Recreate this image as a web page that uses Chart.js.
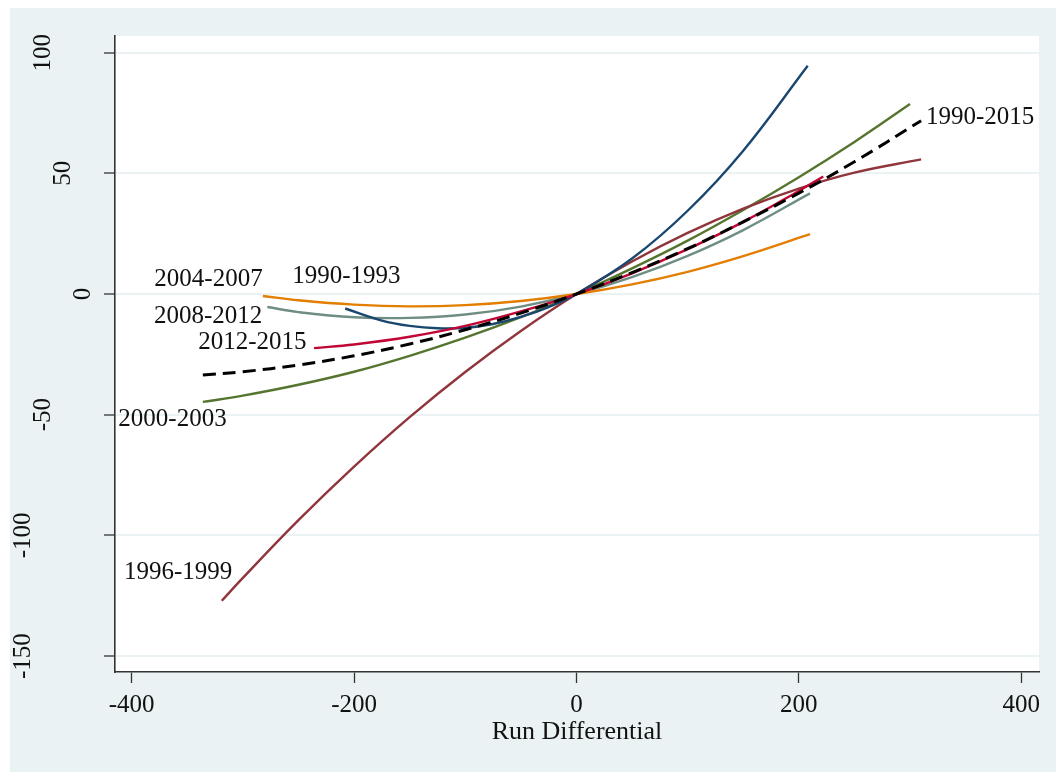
<!DOCTYPE html>
<html>
<head>
<meta charset="utf-8">
<script src="https://cdn.jsdelivr.net/npm/chart.js@4/dist/chart.umd.min.js"></script>
<style>
  html, body { margin: 0; padding: 0; background: #fff; }
  #wrap { position: absolute; left: 10px; top: 8px; width: 1046px; height: 764px; background: #eaf2f3; }
</style>
</head>
<body>
<div id="wrap"><canvas id="myChart" width="1046" height="764"></canvas></div>
<script>
// Fitted win curves vs run differential, by period

const xTicks = [-400, -200, 0, 200, 400];
const yTicks = [-150, -100, -50, 0, 50, 100];

const x1990_2015 = [-336, -300, -250, -200, -150, -100, -50, 0, 50, 100, 150, 200, 250, 310];
const y1990_2015 = [-33.6, -32.2, -29.4, -25.6, -20.7, -14.8, -7.9, 0, 8.9, 18.8, 29.9, 41.8, 54.8, 71.8];

const x1990_1993 = [-208, -175, -150, -125, -100, -75, -50, -25, 0, 50, 100, 150, 208];
const y1990_1993 = [-6.0, -11.0, -13.2, -14.2, -14.0, -12.4, -9.5, -5.4, 0, 14.7, 34.5, 59.4, 94.6];

const x1996_1999 = [-319, -300, -250, -200, -150, -100, -50, 0, 50, 100, 150, 200, 250, 310];
const y1996_1999 = [-127.1, -117.6, -93.7, -71.5, -51.0, -32.3, -15.3, 0, 13.5, 25.3, 35.4, 43.7, 50.3, 55.8];

const x2000_2003 = [-336, -300, -250, -200, -150, -100, -50, 0, 50, 100, 150, 200, 250, 300];
const y2000_2003 = [-44.7, -42.1, -37.6, -32.2, -25.6, -18.1, -9.6, 0, 10.6, 22.1, 34.8, 48.4, 63.0, 78.7];

const x2004_2007 = [-282, -250, -200, -150, -100, -50, 0, 50, 100, 150, 210];
const y2004_2007 = [-0.8, -2.6, -4.4, -5.1, -4.6, -2.9, 0, 4.0, 9.2, 15.7, 24.8];

const x2008_2012 = [-278, -250, -200, -150, -100, -50, 0, 50, 100, 150, 210];
const y2008_2012 = [-5.4, -7.5, -9.6, -9.9, -8.5, -5.2, 0, 7.0, 15.8, 26.5, 41.7];

const x2012_2015 = [-236, -200, -150, -100, -50, 0, 50, 100, 150, 200, 222];
const y2012_2015 = [-22.4, -20.9, -17.7, -13.2, -7.2, 0, 8.6, 18.6, 29.9, 42.7, 48.7];

// curve labels, in data units
const labelText = ['1990-1993', '1996-1999', '2000-2003', '2004-2007', '2008-2012', '2012-2015', '1990-2015'];
const labelX = [-255.6, -309.5, -314.6, -282.2, -282.5, -242.7, 314.3];
const labelY = [7.2, -115.2, -52.0, 6.2, -9.4, -19.9, 73.0];
const labelAlign = ['left', 'right', 'right', 'right', 'right', 'right', 'left'];

const FONT = '25px "Liberation Serif", "DejaVu Serif", serif';

function pts(xs, ys) {
    return xs.map((x, i) => ({ x: x, y: ys[i] }));
}

function series(xs, ys, color, extra) {
    return Object.assign({
        data: pts(xs, ys),
        borderColor: color,
        backgroundColor: 'transparent',
        borderWidth: 2.4,
        pointRadius: 0,
        tension: 0.4,
        fill: false
    }, extra || {});
}

const stataLook = {
    id: 'stataLook',
    beforeDraw(chart) {
        const { ctx, chartArea: a } = chart;
        ctx.save();
        ctx.fillStyle = '#ffffff';
        ctx.fillRect(a.left, a.top, a.right - a.left, a.bottom - a.top);
        ctx.restore();
    },
    afterDraw(chart) {
        const { ctx, chartArea: a } = chart;
        const xs = chart.scales.x, ys = chart.scales.y;
        ctx.save();
        ctx.font = FONT;
        ctx.fillStyle = '#111';

        // x tick labels + title
        ctx.textAlign = 'center';
        ctx.textBaseline = 'alphabetic';
        xTicks.forEach(v => ctx.fillText(String(v), xs.getPixelForValue(v), a.bottom + 40));
        ctx.font = '26px "Liberation Serif", "DejaVu Serif", serif';
        ctx.fillText('Run Differential', (a.left + a.right) / 2, a.bottom + 67);
        ctx.font = FONT;

        // y tick labels, turned up
        yTicks.forEach(v => {
            const s = String(v);
            ctx.save();
            ctx.translate(a.left - 12 - 20 * s.length, ys.getPixelForValue(v));
            ctx.rotate(-Math.PI / 2);
            ctx.textAlign = 'center';
            ctx.textBaseline = 'middle';
            ctx.fillText(s, 0, 0);
            ctx.restore();
        });

        // curve labels
        ctx.textBaseline = 'middle';
        labelText.forEach((t, i) => {
            ctx.textAlign = labelAlign[i];
            ctx.fillText(t, xs.getPixelForValue(labelX[i]), ys.getPixelForValue(labelY[i]));
        });
        ctx.restore();
    }
};

const ctx = document.getElementById('myChart').getContext('2d');
const myChart = new Chart(ctx, {
    type: 'line',
    data: {
        datasets: [
            series(x1990_2015, y1990_2015, '#000000', { borderWidth: 3, borderDash: [13, 7] }),
            series(x2012_2015, y2012_2015, '#c10534'),
            series(x1990_1993, y1990_1993, '#1a476f'),
            series(x1996_1999, y1996_1999, '#90353b'),
            series(x2000_2003, y2000_2003, '#55752f'),
            series(x2004_2007, y2004_2007, '#e37e00'),
            series(x2008_2012, y2008_2012, '#6e8e84')
        ]
    },
    options: {
        responsive: false,
        animation: false,
        devicePixelRatio: 1,
        layout: { padding: { left: 0, top: 28, right: 17, bottom: 0 } },
        plugins: {
            legend: { display: false },
            tooltip: { enabled: false }
        },
        scales: {
            x: {
                type: 'linear',
                min: -415,
                max: 416,
                afterBuildTicks: s => { s.ticks = xTicks.map(v => ({ value: v })); },
                afterFit: s => { s.height = 100; },
                ticks: { display: false },
                grid: {
                    drawOnChartArea: false,
                    drawTicks: true,
                    tickLength: 11,
                    tickColor: '#333',
                    tickWidth: 1.3
                },
                border: { display: true, color: '#333', width: 1.6 }
            },
            y: {
                type: 'linear',
                min: -156.6,
                max: 106.9,
                afterBuildTicks: s => { s.ticks = yTicks.map(v => ({ value: v })); },
                afterFit: s => { s.width = 105; },
                ticks: { display: false },
                grid: {
                    color: '#eaf2f3',
                    lineWidth: 2,
                    drawTicks: true,
                    tickLength: 11,
                    tickColor: '#333',
                    tickWidth: 1.3
                },
                border: { display: true, color: '#333', width: 1.6 }
            }
        }
    },
    plugins: [stataLook]
});
</script>
</body>
</html>
